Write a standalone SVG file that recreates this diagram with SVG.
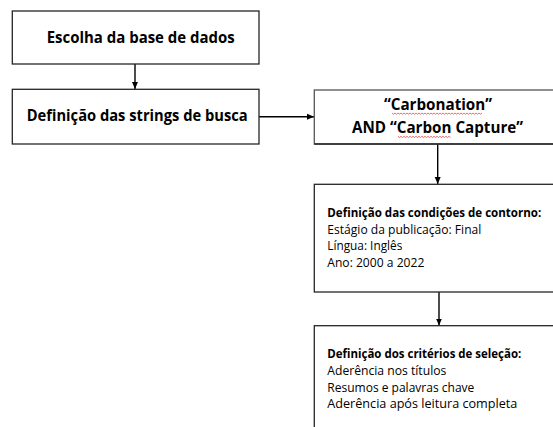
<svg xmlns="http://www.w3.org/2000/svg" width="553" height="427" viewBox="0 0 553 427">
<defs>
<marker id="ah" markerWidth="8" markerHeight="8" refX="7" refY="4" orient="auto" markerUnits="userSpaceOnUse">
<path d="M0,1 L7,4 L0,7 Z" fill="#000"/>
</marker>
<style>
.box{fill:#fff;stroke:#262626;stroke-width:1.3}
.t{font-family:"Open Sans","Liberation Sans",Arial,sans-serif;fill:#000}
.h{font-size:15.5px;font-weight:bold}
.s{font-size:12px}
.b{font-weight:bold}
.con{stroke:#000;stroke-width:1.4;fill:none}
.sq{stroke:#e03030;stroke-width:0.7;fill:none}
</style>
</defs>
<rect width="553" height="427" fill="#fff"/>
<g id="connectors">
<line class="con" x1="135" y1="64" x2="135" y2="89" marker-end="url(#ah)"/>
<line class="con" x1="259" y1="116.7" x2="314" y2="116.7" marker-end="url(#ah)"/>
<line class="con" x1="437.7" y1="144" x2="437.7" y2="184" marker-end="url(#ah)"/>
<line class="con" x1="439" y1="292" x2="439" y2="325.5" marker-end="url(#ah)"/>
</g>
<g id="node1">
<rect class="box" x="12.3" y="11" width="246.7" height="53"/>
<text class="t h" x="46.7" y="42.7" textLength="188" lengthAdjust="spacingAndGlyphs">Escolha da base de dados</text>
</g>
<g id="node2">
<rect class="box" x="12.3" y="89.3" width="246.7" height="54.7"/>
<text class="t h" x="26.7" y="121" textLength="221" lengthAdjust="spacingAndGlyphs">Definição das strings de busca</text>
</g>
<g id="node3">
<rect class="box" x="314.3" y="90" width="245" height="54" style="stroke:#555"/>
<line x1="314.3" y1="144" x2="553" y2="144" stroke="#262626" stroke-width="1.3"/>
<text class="t h" x="384" y="110" textLength="108" lengthAdjust="spacingAndGlyphs">“Carbonation”</text>
<text class="t h" x="352" y="133.3" textLength="171" lengthAdjust="spacingAndGlyphs">AND “Carbon Capture”</text>
<path class="sq" d="M392,113 l1.5,1.2 l1.5,-1.2 l1.5,1.2 l1.5,-1.2 l1.5,1.2 l1.5,-1.2 l1.5,1.2 l1.5,-1.2 l1.5,1.2 l1.5,-1.2 l1.5,1.2 l1.5,-1.2 l1.5,1.2 l1.5,-1.2 l1.5,1.2 l1.5,-1.2 l1.5,1.2 l1.5,-1.2 l1.5,1.2 l1.5,-1.2 l1.5,1.2 l1.5,-1.2 l1.5,1.2 l1.5,-1.2 l1.5,1.2 l1.5,-1.2 l1.5,1.2 l1.5,-1.2 l1.5,1.2 l1.5,-1.2 l1.5,1.2 l1.5,-1.2 l1.5,1.2 l1.5,-1.2 l1.5,1.2 l1.5,-1.2 l1.5,1.2 l1.5,-1.2 l1.5,1.2 l1.5,-1.2 l1.5,1.2 l1.5,-1.2 l1.5,1.2 l1.5,-1.2 l1.5,1.2 l1.5,-1.2 l1.5,1.2 l1.5,-1.2 l1.5,1.2 l1.5,-1.2 l1.5,1.2 l1.5,-1.2 l1.5,1.2 l1.5,-1.2 l1.5,1.2 l1.5,-1.2 l1.5,1.2 l1.5,-1.2 l1.5,1.2 l1.5,-1.2"/>
<path class="sq" d="M398,136.3 l1.5,1.2 l1.5,-1.2 l1.5,1.2 l1.5,-1.2 l1.5,1.2 l1.5,-1.2 l1.5,1.2 l1.5,-1.2 l1.5,1.2 l1.5,-1.2 l1.5,1.2 l1.5,-1.2 l1.5,1.2 l1.5,-1.2 l1.5,1.2 l1.5,-1.2 l1.5,1.2 l1.5,-1.2 l1.5,1.2 l1.5,-1.2 l1.5,1.2 l1.5,-1.2 l1.5,1.2 l1.5,-1.2 l1.5,1.2 l1.5,-1.2 l1.5,1.2 l1.5,-1.2 l1.5,1.2 l1.5,-1.2 l1.5,1.2 l1.5,-1.2 l1.5,1.2 l1.5,-1.2 l1.5,1.2"/>
</g>
<g id="node4">
<rect class="box" x="314.3" y="184.3" width="245" height="107.7"/>
<text class="t s b" x="327.3" y="217.3" textLength="214" lengthAdjust="spacingAndGlyphs">Definição das condições de contorno:</text>
<text class="t s" x="327.3" y="233.5" textLength="154" lengthAdjust="spacingAndGlyphs">Estágio da publicação: Final</text>
<text class="t s" x="327.3" y="250" textLength="75" lengthAdjust="spacingAndGlyphs">Língua: Inglês</text>
<text class="t s" x="327.3" y="266.7" textLength="97" lengthAdjust="spacingAndGlyphs">Ano: 2000 a 2022</text>
</g>
<g id="node5">
<rect class="box" x="314.3" y="325.7" width="245" height="140"/>
<text class="t s b" x="327.3" y="358" textLength="194" lengthAdjust="spacingAndGlyphs">Definição dos critérios de seleção:</text>
<text class="t s" x="327.3" y="375" textLength="119" lengthAdjust="spacingAndGlyphs">Aderência nos títulos</text>
<text class="t s" x="327.3" y="391.7" textLength="147" lengthAdjust="spacingAndGlyphs">Resumos e palavras chave</text>
<text class="t s" x="327.3" y="408" textLength="190" lengthAdjust="spacingAndGlyphs">Aderência após leitura completa</text>
</g>
</svg>
